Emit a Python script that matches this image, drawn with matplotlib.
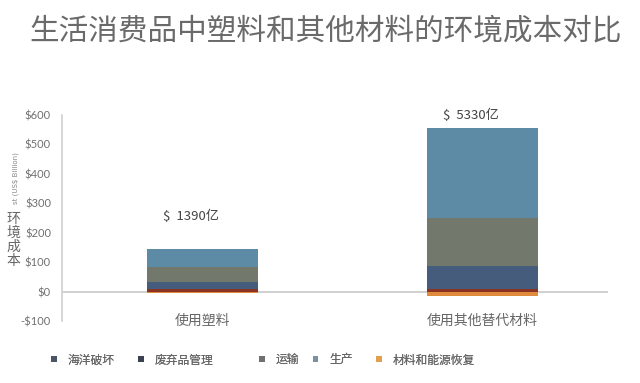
import matplotlib
matplotlib.use("Agg")
import matplotlib.pyplot as plt
from matplotlib.patches import Patch
import numpy as np

plt.rcParams['font.family'] = ['Noto Sans CJK SC', 'DejaVu Sans']

categories = ["使用塑料", "使用其他替代材料"]
series_names = ["海洋破坏", "废弃品管理", "运输", "生产", "材料和能源恢复"]
ocean = [9, 8]
waste = [25, 77]
transport = [49, 164]
production = [63, 307]
recovery = [-4, -14]
totals_text = ["$  1390亿", "$  5330亿"]
yticks = [-100, 0, 100, 200, 300, 400, 500, 600]
ytick_labels = ["-$100", "$0", "$100", "$200", "$300", "$400", "$500", "$600"]

bar_colors = ["#8a3324", "#455c7c", "#72786c", "#5d8aa4"]
recovery_color = "#e08a3c"
legend_colors = ["#4a5565", "#3b4150", "#707070", "#7b90a2", "#e0a050"]

fig = plt.figure(figsize=(6.4, 3.83), dpi=100)
ax = fig.add_axes([0.097, 0.162, 0.853, 0.538])

x = np.arange(len(categories))
width = 0.396
bottom = np.zeros(len(categories))
for vals, col in zip([ocean, waste, transport, production], bar_colors):
    ax.bar(x, vals, width, bottom=bottom, color=col, linewidth=0, zorder=3)
    bottom += np.array(vals)
ax.bar(x, recovery, width, color=recovery_color, linewidth=0, zorder=3)

ax.axhline(0, color="#c8c8c8", linewidth=1.2, zorder=1)
ax.set_xlim(-0.502, 1.448)
ax.set_ylim(-100, 600)
ax.set_yticks(yticks)
ax.set_yticklabels(ytick_labels, fontsize=8, color="#707070", family=['Lato', 'DejaVu Sans'])
ax.tick_params(axis='y', length=0, pad=8)
ax.set_xticks([])
for s in ["top", "right", "bottom"]:
    ax.spines[s].set_visible(False)
ax.spines["left"].set_color("#d0d0d0")
ax.spines["left"].set_linewidth(1.2)

# category labels
for xi, c in zip(x, categories):
    ax.text(xi, -100, c, ha="center", va="center", fontsize=10, color="#666666",
            transform=ax.transData)

# totals
ax.text(0 - 0.14, 255, totals_text[0], ha="left", va="center", fontsize=9.5, color="#444444")
ax.text(1 - 0.14, 600, totals_text[1], ha="left", va="center", fontsize=9.5, color="#444444")

# title
fig.text(0.509, 0.92, "生活消费品中塑料和其他材料的环境成本对比", ha="center", va="center",
         fontsize=21.3, color="#6a6a6a")

# y label
fig.text(0.021, 0.373, "环\n境\n成\n本", ha="center", va="center", fontsize=10,
         color="#666666", linespacing=1.0)
fig.text(0.025, 0.535, "st (US$ Billion)", ha="center", va="center", fontsize=5,
         rotation=90, color="#888888", family=['DejaVu Sans'])

# legend items placed individually
leg_x = [0.08, 0.216, 0.405, 0.489, 0.588]
for name, col, lx in zip(series_names, legend_colors, leg_x):
    h = Patch(facecolor=col, edgecolor='none')
    lg = fig.legend(handles=[h], labels=[name], loc="center left", bbox_to_anchor=(lx, 0.06),
                    frameon=False, fontsize=8.5, handlelength=0.45, handleheight=0.45,
                    handletextpad=0.9, borderpad=0, borderaxespad=0)
    for t in lg.get_texts():
        t.set_color("#666666")
    fig.add_artist(lg)

fig.savefig("out.png", dpi=100)
